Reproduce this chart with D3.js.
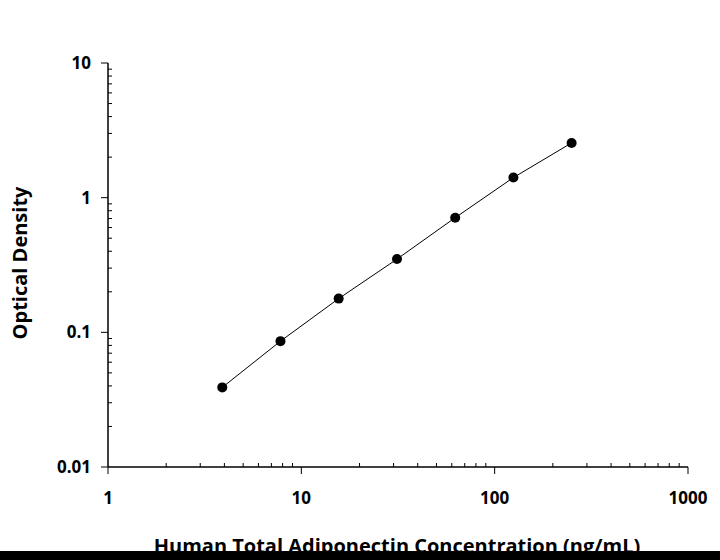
<!DOCTYPE html><html><head><script src="https://cdn.jsdelivr.net/npm/d3@7"></script>
<style>body{margin:0;background:#fff}text{font-family:"Open Sans",sans-serif;font-weight:bold}</style></head><body>
<svg id="c" width="720" height="560"></svg>
<script>
const concentrations=[3.9,7.8,15.6,31.25,62.5,125,250];
const opticalDensity=[0.039,0.086,0.178,0.35,0.71,1.41,2.55];
const xTicks=[1,10,100,1000];
const yTicks=[0.01,0.1,1,10];
const svg=d3.select("#c");
const x=d3.scaleLog().domain([1,1000]).range([108,688]);
const y=d3.scaleLog().domain([0.01,10]).range([467,63]);
const g=svg.append("g");
// minor ticks
const minorX=[];for(let d=1;d<1000;d*=10)for(let k=2;k<10;k++)minorX.push(d*k);
const minorY=[];for(let d=0.01;d<10;d*=10)for(let k=2;k<10;k++)minorY.push(d*k);
g.selectAll(".mx").data(minorX).join("line").attr("x1",d=>x(d)).attr("x2",d=>x(d)).attr("y1",467).attr("y2",463).attr("stroke","#000");
g.selectAll(".my").data(minorY).join("line").attr("y1",d=>y(d)).attr("y2",d=>y(d)).attr("x1",108).attr("x2",112).attr("stroke","#000");
g.append("line").attr("x1",108).attr("x2",688).attr("y1",467).attr("y2",467).attr("stroke","#000").attr("stroke-width",1.5);
g.append("line").attr("x1",108).attr("x2",108).attr("y1",63).attr("y2",467).attr("stroke","#000").attr("stroke-width",1.5);
g.selectAll(".Mx").data(xTicks).join("line").attr("x1",d=>x(d)).attr("x2",d=>x(d)).attr("y1",467).attr("y2",474).attr("stroke","#000");
g.selectAll(".My").data(yTicks).join("line").attr("y1",d=>y(d)).attr("y2",d=>y(d)).attr("x1",101).attr("x2",108).attr("stroke","#000");
g.selectAll(".lx").data(xTicks).join("text").attr("x",d=>x(d)).attr("y",504).attr("text-anchor","middle").attr("font-size",17).text(d=>d);
g.selectAll(".ly").data(yTicks).join("text").attr("x",91).attr("y",d=>y(d)+6).attr("text-anchor","end").attr("font-size",17).text(d=>d);
const pts=concentrations.map((c,i)=>[c,opticalDensity[i]]);
g.append("path").attr("d",d3.line().x(d=>x(d[0])).y(d=>y(d[1]))(pts)).attr("fill","none").attr("stroke","#000").attr("stroke-width",1);
g.selectAll("circle").data(pts).join("circle").attr("cx",d=>x(d[0])).attr("cy",d=>y(d[1])).attr("r",5).attr("fill","#000");
svg.append("text").attr("x",397).attr("y",553).attr("text-anchor","middle").attr("font-size",20).text("Human Total Adiponectin Concentration (ng/mL)");
svg.append("text").attr("transform","translate(27,263) rotate(-90)").attr("text-anchor","middle").attr("font-size",20).text("Optical Density");
svg.append("rect").attr("x",0).attr("y",551).attr("width",720).attr("height",9).attr("fill","#000");
</script></body></html>
